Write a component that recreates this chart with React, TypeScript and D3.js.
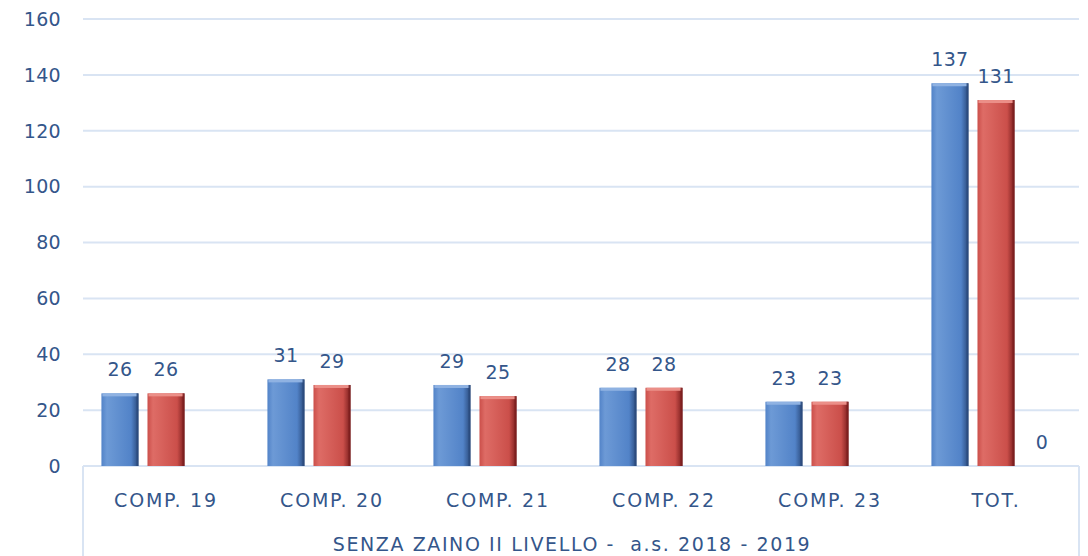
import React, { useEffect, useRef } from "react";
import * as d3 from "d3";

const categories = ["COMP. 19", "COMP. 20", "COMP. 21", "COMP. 22", "COMP. 23", "TOT."];
const seriesNames = ["Serie 1", "Serie 2", "Serie 3"];
const serie1 = [26, 31, 29, 28, 23, 137];
const serie2 = [26, 29, 25, 28, 23, 131];
const serie3: (number | null)[] = [null, null, null, null, null, 0];
const yTicks = [0, 20, 40, 60, 80, 100, 120, 140, 160];
const axisTitle = "SENZA ZAINO II LIVELLO -  a.s. 2018 - 2019";

const seriesColors = [
  { light: "#6d9ad6", mid: "#5283c8", dark: "#2b4a7c", top: "#8fb2e2" },
  { light: "#de6c66", mid: "#cb4f4a", dark: "#7a1e1e", top: "#eb8f88" },
  { light: "#9bbb59", mid: "#8aab48", dark: "#4f6a22", top: "#b7d07f" },
];

const App = () => {
  const svgRef = useRef<SVGSVGElement>(null);

  useEffect(() => {
    const svg = d3.select(svgRef.current);
    svg.selectAll("*").remove();

    const width = 1088;
    const height = 556;
    const margin = { top: 19, right: 9, bottom: 90, left: 83 };
    const font = "'DejaVu Sans', sans-serif";
    const textColor = "#34568a";
    const gridColor = "#d9e4f3";

    const y = d3
      .scaleLinear()
      .domain([0, 160])
      .range([height - margin.bottom, margin.top]);

    const x0 = d3
      .scaleBand()
      .domain(categories)
      .range([margin.left, width - margin.right]);

    const x1 = d3
      .scaleBand()
      .domain(seriesNames)
      .range([0, x0.bandwidth()])
      .paddingInner(0.196)
      .paddingOuter(0.4);

    // gradients for the bevelled bars
    const defs = svg.append("defs");
    seriesColors.forEach((c, i) => {
      const g = defs
        .append("linearGradient")
        .attr("id", `grad${i}`)
        .attr("x1", "0%")
        .attr("x2", "100%")
        .attr("y1", "0%")
        .attr("y2", "0%");
      g.append("stop").attr("offset", "0%").attr("stop-color", c.mid);
      g.append("stop").attr("offset", "15%").attr("stop-color", c.light);
      g.append("stop").attr("offset", "80%").attr("stop-color", c.mid);
      g.append("stop").attr("offset", "100%").attr("stop-color", c.dark);
    });

    const txt = (sel: any, size = 20, spacing = 0) =>
      sel
        .attr("font-family", font)
        .attr("font-size", size)
        .attr("letter-spacing", spacing)
        .attr("fill", textColor);

    // gridlines
    svg
      .append("g")
      .selectAll("line")
      .data(yTicks)
      .join("line")
      .attr("x1", margin.left)
      .attr("x2", width - margin.right)
      .attr("y1", (d) => y(d))
      .attr("y2", (d) => y(d))
      .attr("stroke", gridColor)
      .attr("stroke-width", 2);

    // y labels
    svg
      .append("g")
      .selectAll("text")
      .data(yTicks)
      .join("text")
      .attr("x", 61)
      .attr("y", (d) => y(d))
      .attr("dy", "0.36em")
      .attr("text-anchor", "end")
      .call(txt, 19, 0.3)
      .text((d) => d);

    // table-like category axis borders
    [margin.left, width - margin.right].forEach((lx) =>
      svg
        .append("line")
        .attr("x1", lx)
        .attr("x2", lx)
        .attr("y1", y(0))
        .attr("y2", height)
        .attr("stroke", gridColor)
        .attr("stroke-width", 2)
    );

    const seriesData = [serie1, serie2, serie3];
    const bars = seriesData.flatMap((vals, si) =>
      vals.map((v, ci) => ({ cat: categories[ci], series: seriesNames[si], si, v }))
    );

    const barG = svg.append("g");
    bars
      .filter((d) => d.v !== null && d.v > 0)
      .forEach((d) => {
        const bx = (x0(d.cat) ?? 0) + (x1(d.series) ?? 0);
        const bw = x1.bandwidth();
        const by = y(d.v as number);
        const bh = y(0) - by;
        const c = seriesColors[d.si];
        barG
          .append("rect")
          .attr("x", bx)
          .attr("y", by)
          .attr("width", bw)
          .attr("height", bh)
          .attr("fill", `url(#grad${d.si})`);
        // top bevel
        barG
          .append("rect")
          .attr("x", bx + 1)
          .attr("y", by)
          .attr("width", bw - 2)
          .attr("height", 3)
          .attr("fill", c.top);
        // right dark edge
        barG
          .append("rect")
          .attr("x", bx + bw - 2)
          .attr("y", by)
          .attr("width", 2)
          .attr("height", bh)
          .attr("fill", c.dark)
          .attr("opacity", 0.8);
      });

    // data labels
    svg
      .append("g")
      .selectAll("text")
      .data(bars.filter((d) => d.v !== null))
      .join("text")
      .attr("x", (d) => (x0(d.cat) ?? 0) + (x1(d.series) ?? 0) + x1.bandwidth() / 2)
      .attr("y", (d) => y(d.v as number) - 17)
      .attr("text-anchor", "middle")
      .call(txt, 19, 0.3)
      .text((d) => d.v as number);

    // category labels
    svg
      .append("g")
      .selectAll("text")
      .data(categories)
      .join("text")
      .attr("x", (d) => (x0(d) ?? 0) + x0.bandwidth() / 2)
      .attr("y", 507)
      .attr("text-anchor", "middle")
      .call(txt, 19, 1.8)
      .text((d) => d);

    svg
      .append("text")
      .attr("x", (margin.left + width - margin.right) / 2 - 9)
      .attr("y", 551)
      .attr("text-anchor", "middle")
      .call(txt, 19, 1.6)
      .style("white-space", "pre")
      .text(axisTitle);
  }, []);

  return (
    <svg
      ref={svgRef}
      width={1088}
      height={556}
      viewBox="0 0 1088 556"
      style={{ position: "absolute", left: 0, top: 0, background: "#fff" }}
    ></svg>
  );
};

export default App;
